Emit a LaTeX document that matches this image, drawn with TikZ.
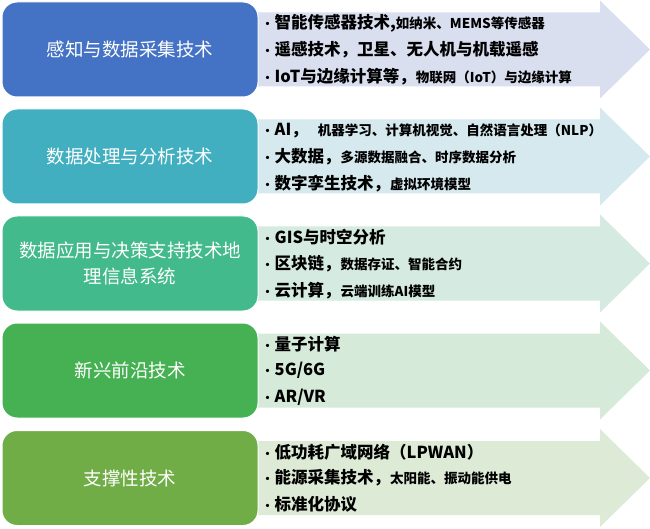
\documentclass[tikz,border=0pt]{standalone}
\usepackage{fontspec}
\setmainfont{Noto Sans CJK SC}
\usepackage{tikz}
\usetikzlibrary{positioning,calc}

\definecolor{senseBox}{HTML}{4472C4}
\definecolor{senseArr}{HTML}{DADFF0}
\definecolor{procBox}{HTML}{41AFBF}
\definecolor{procArr}{HTML}{D6E9EE}
\definecolor{appBox}{HTML}{43BA8B}
\definecolor{appArr}{HTML}{D5EBE2}
\definecolor{newBox}{HTML}{45B152}
\definecolor{newArr}{HTML}{D5EAD8}
\definecolor{baseBox}{HTML}{70AD47}
\definecolor{baseArr}{HTML}{DDEBD6}

\newcommand{\bul}{\makebox[13pt][l]{\fontsize{12}{12}\selectfont •}}
\newcommand{\sm}[1]{{\fontsize{13.5}{15}\selectfont #1}}

\begin{document}
\begin{tikzpicture}[
x=1pt,y=1pt,
techbox/.style={draw=white,line width=1pt,rounded corners=15pt,
  minimum width=256pt,minimum height=95pt,inner sep=0pt,
  text=white,align=center,font=\fontsize{18.5}{26}\selectfont},
item/.style={anchor=west,inner sep=0pt,font=\bfseries\fontsize{16.5}{18}\selectfont}]
    \useasboundingbox (0,0) rectangle (650,528);

    % Draw arrows and category boxes
    \foreach \yc/\nm/\bx/\ar/\txt in {
        478.5/sense/senseBox/senseArr/{感知与数据采集技术},
        371.5/proc/procBox/procArr/{数据处理与分析技术},
        264.5/app/appBox/appArr/{数据应用与决策支持技术地\\理信息系统},
        157.5/new/newBox/newArr/{新兴前沿技术},
        50/base/baseBox/baseArr/{支撑性技术}}{
        \fill[\ar] (250,\yc-37) -- (600,\yc-37) -- (600,\yc-49) -- (650,\yc)
            -- (600,\yc+49) -- (600,\yc+37) -- (250,\yc+37) -- cycle;
        \node[techbox,fill=\bx] (\nm) at (130,\yc) {\txt};
    }

    % Items
    \node[item] (sense-b) at ([xshift=3pt]sense.east) {\bul 遥感技术，卫星、无人机与机载遥感};
    \node[item] (sense-a) at ([yshift=26pt]sense-b.west) {\bul 智能传感器技术,\sm{如纳米、MEMS等传感器}};
    \node[item] (sense-c) at ([yshift=-27pt]sense-b.west) {\bul IoT与边缘计算等，\sm{物联网（IoT）与边缘计算}};

    \node[item] (proc-b) at ([xshift=3pt]proc.east) {\bul 大数据，\sm{多源数据融合、时序数据分析}};
    \node[item] (proc-a) at ([yshift=26pt]proc-b.west) {\bul AI，\hspace{10pt}\sm{机器学习、计算机视觉、自然语言处理（NLP）}};
    \node[item] (proc-c) at ([yshift=-27pt]proc-b.west) {\bul 数字孪生技术，\sm{虚拟环境模型}};

    \node[item] (app-b) at ([xshift=3pt]app.east) {\bul 区块链，\sm{数据存证、智能合约}};
    \node[item] (app-a) at ([yshift=26pt]app-b.west) {\bul GIS与时空分析};
    \node[item] (app-c) at ([yshift=-27pt]app-b.west) {\bul 云计算，\sm{云端训练AI模型}};

    \node[item] (new-b) at ([xshift=3pt]new.east) {\bul 5G/6G};
    \node[item] (new-a) at ([yshift=26pt]new-b.west) {\bul 量子计算};
    \node[item] (new-c) at ([yshift=-27pt]new-b.west) {\bul AR/VR};

    \node[item] (base-b) at ([xshift=3pt]base.east) {\bul 能源采集技术，\sm{太阳能、振动能供电}};
    \node[item] (base-a) at ([yshift=26pt]base-b.west) {\bul 低功耗广域网络（LPWAN）};
    \node[item] (base-c) at ([yshift=-26pt]base-b.west) {\bul 标准化协议};

\end{tikzpicture}
\end{document}
